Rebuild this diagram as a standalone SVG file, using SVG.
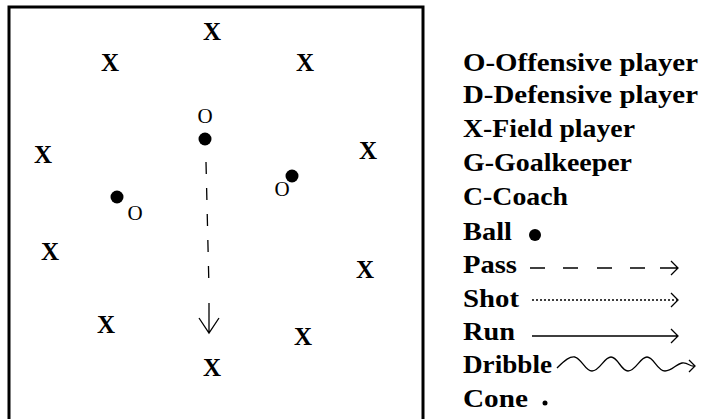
<svg xmlns="http://www.w3.org/2000/svg" width="706" height="419" viewBox="0 0 706 419">
<style>
.x{font-family:"Liberation Serif","Times New Roman",serif;font-weight:bold;font-size:25px;text-anchor:middle;fill:#000}
.o{font-family:"Liberation Serif","Times New Roman",serif;font-size:21px;text-anchor:middle;fill:#000}
.lg{font-family:"Liberation Serif","Times New Roman",serif;font-weight:bold;font-size:25px;fill:#000}
.ln{fill:none;stroke:#000;stroke-width:1.3}
.ball{fill:#000}
</style>
<rect width="706" height="419" fill="#fff"/>
<rect x="9" y="7" width="414" height="430" fill="none" stroke="#000" stroke-width="3"/>
<g id="players">
<g id="x1"><text class="x" x="212" y="40">X</text></g>
<g id="x2"><text class="x" x="110" y="70.5">X</text></g>
<g id="x3"><text class="x" x="305" y="70.5">X</text></g>
<g id="x4"><text class="x" x="43" y="162.5">X</text></g>
<g id="x5"><text class="x" x="368" y="159">X</text></g>
<g id="x6"><text class="x" x="50" y="259.5">X</text></g>
<g id="x7"><text class="x" x="365" y="277.5">X</text></g>
<g id="x8"><text class="x" x="106" y="332.5">X</text></g>
<g id="x9"><text class="x" x="303" y="344.5">X</text></g>
<g id="x10"><text class="x" x="212" y="375.5">X</text></g>
<g id="o1"><text class="o" x="205" y="123">O</text><circle class="ball" cx="205" cy="139" r="6.5"/></g>
<g id="o2"><text class="o" x="282" y="196">O</text><circle class="ball" cx="292" cy="176" r="6.5"/></g>
<g id="o3"><text class="o" x="135" y="220">O</text><circle class="ball" cx="117" cy="197" r="6.5"/></g>
</g>
<g id="connectors">
<path class="ln" d="M206 162 L209 289" stroke-dasharray="12 14"/>
<path class="ln" d="M209 303 L209 333 M199 318 L209 333 L219 318"/>
</g>
<g id="legend">
<text class="lg" x="463" y="71" textLength="235" lengthAdjust="spacingAndGlyphs">O-Offensive player</text>
<text class="lg" x="463" y="103" textLength="235" lengthAdjust="spacingAndGlyphs">D-Defensive player</text>
<text class="lg" x="463" y="137" textLength="172" lengthAdjust="spacingAndGlyphs">X-Field player</text>
<text class="lg" x="463" y="171" textLength="169" lengthAdjust="spacingAndGlyphs">G-Goalkeeper</text>
<text class="lg" x="463" y="205" textLength="105" lengthAdjust="spacingAndGlyphs">C-Coach</text>
<text class="lg" x="463" y="240" textLength="49" lengthAdjust="spacingAndGlyphs">Ball</text>
<circle class="ball" cx="535" cy="235" r="6"/>
<text class="lg" x="463" y="273" textLength="54" lengthAdjust="spacingAndGlyphs">Pass</text>
<path class="ln" d="M530 268 H545 M563 268 H578 M597 268 H612 M630 268 H645 M660 268 H678 M671 261 L678 268 L671 275"/>
<text class="lg" x="463" y="307" textLength="56" lengthAdjust="spacingAndGlyphs">Shot</text>
<path class="ln" d="M532 300 H677" stroke-dasharray="2 2"/>
<path class="ln" d="M671 293 L678 300 L671 307"/>
<text class="lg" x="463" y="340" textLength="52" lengthAdjust="spacingAndGlyphs">Run</text>
<path class="ln" d="M532 336 H678 M671 329 L678 336 L671 343"/>
<text class="lg" x="463" y="373" textLength="89" lengthAdjust="spacingAndGlyphs">Dribble</text>
<path class="ln" d="M557 368 C565 360 570 356 575 357 C582 359 585 371 592 371 C600 371 604 357 611 357 C618 357 621 371 628 371 C636 371 640 357 647 357 C654 357 657 371 665 371 C672 371 676 364 682 363 C688 362 690 367 694 366"/>
<path class="ln" d="M689 360 L695 366 L689 372"/>
<text class="lg" x="463" y="407" textLength="65" lengthAdjust="spacingAndGlyphs">Cone</text>
<circle class="ball" cx="545" cy="403" r="2.5"/>
</g>
</svg>
